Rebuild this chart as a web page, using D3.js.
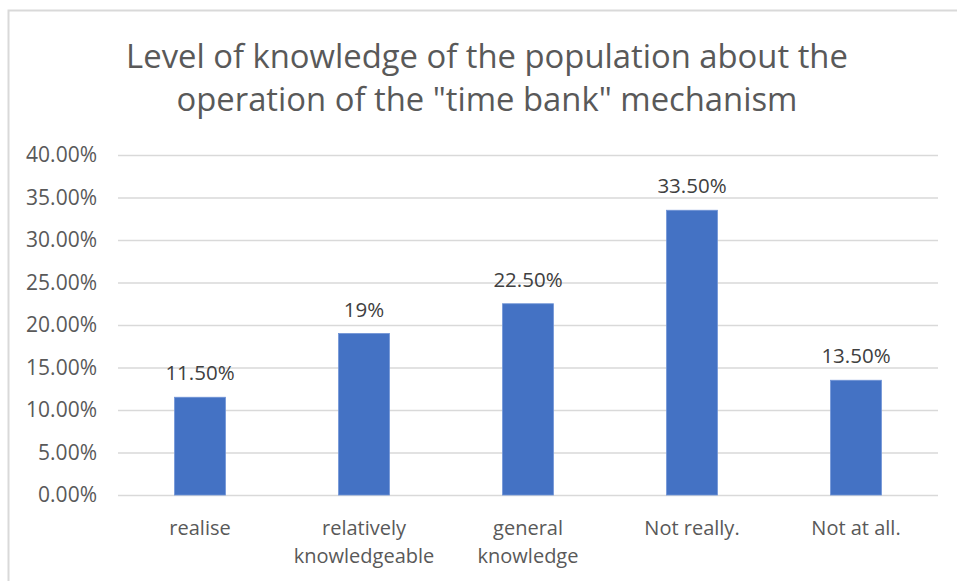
<!DOCTYPE html>
<html>
<head>
<meta charset="utf-8">
<script src="https://cdn.jsdelivr.net/npm/d3@7"></script>
<style>
  body { margin: 0; background: #fff; }
  svg { display: block; }
</style>
</head>
<body>
<svg id="chart" width="957" height="581"></svg>
<script>
// chart data
const categories = [["realise"], ["relatively", "knowledgeable"], ["general", "knowledge"], ["Not really."], ["Not at all."]];
const values = [11.5, 19, 22.5, 33.5, 13.5];
const valueLabels = ["11.50%", "19%", "22.50%", "33.50%", "13.50%"];
const yTicks = [0, 5, 10, 15, 20, 25, 30, 35, 40];
const titleLines = ["Level of knowledge of the population about the", "operation of the \"time bank\" mechanism"];

const svg = d3.select("#chart");
const textColor = "#595959";

// frame of the chart area
svg.append("path")
    .attr("d", "M8.5,581 L8.5,10.5 L957,10.5")
    .attr("fill", "none")
    .attr("stroke", "#d9d9d9")
    .attr("stroke-width", 2);

const margin = {left: 118, right: 938, top: 155, bottom: 495};

let x = d3.scaleBand()
    .domain(d3.range(categories.length))
    .range([margin.left, margin.right])
    .paddingInner(0.69)
    .paddingOuter(0.345);

let y = d3.scaleLinear()
    .domain([0, 40])
    .range([margin.bottom, margin.top]);

// title
svg.append("g")
    .selectAll("text")
    .data(titleLines)
    .enter()
    .append("text")
    .attr("x", 487)
    .attr("y", (d, i) => 68 + i * 43)
    .attr("text-anchor", "middle")
    .attr("font-family", "Open Sans")
    .attr("font-size", 32.8)
    .attr("fill", textColor)
    .text(d => d);

// gridlines + y labels
let yAxis = d3.axisLeft(y)
    .tickValues(yTicks)
    .tickSize(-(margin.right - margin.left))
    .tickPadding(21)
    .tickFormat(d => d.toFixed(2) + "%");

let gy = svg.append("g")
    .attr("transform", "translate(" + margin.left + ",0)")
    .call(yAxis);
gy.select(".domain").remove();
gy.selectAll(".tick line").attr("stroke", "#d9d9d9").attr("stroke-width", 1.5);
gy.selectAll(".tick text")
    .attr("font-family", "Open Sans")
    .attr("font-size", 21)
    .attr("fill", textColor);

// bars
svg.append("g")
    .selectAll("rect")
    .data(values)
    .enter()
    .append("rect")
    .attr("x", (d, i) => x(i))
    .attr("y", d => y(d))
    .attr("width", x.bandwidth())
    .attr("height", d => y(0) - y(d))
    .attr("fill", "#4472c4")
    .attr("stroke", "#6f93d6")
    .attr("stroke-width", 0.8);

// value labels
svg.append("g")
    .selectAll("text")
    .data(values)
    .enter()
    .append("text")
    .attr("x", (d, i) => x(i) + x.bandwidth() / 2)
    .attr("y", d => y(d) - 17)
    .attr("text-anchor", "middle")
    .attr("font-family", "Open Sans")
    .attr("font-size", 20.5)
    .attr("fill", "#404040")
    .text((d, i) => valueLabels[i]);

// category labels
let cat = svg.append("g")
    .selectAll("text")
    .data(categories)
    .enter()
    .append("text")
    .attr("text-anchor", "middle")
    .attr("font-family", "Open Sans")
    .attr("font-size", 20)
    .attr("fill", textColor)
    .attr("transform", (d, i) => "translate(" + (x(i) + x.bandwidth() / 2) + ",535)");

cat.selectAll("tspan")
    .data(d => d)
    .enter()
    .append("tspan")
    .attr("x", 0)
    .attr("dy", (d, i) => i === 0 ? 0 : 28)
    .text(d => d);
</script>
</body>
</html>
